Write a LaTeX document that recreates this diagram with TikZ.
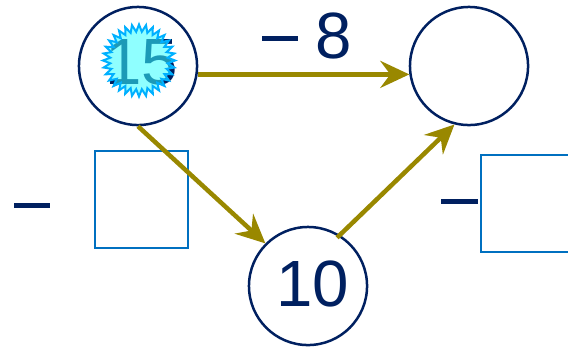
\documentclass[tikz,border=0pt]{standalone}
\usepackage{fontspec}
\setmainfont{Liberation Sans}
\usetikzlibrary{arrows.meta,shapes.geometric}
\definecolor{navyline}{HTML}{002060}
\definecolor{oliveline}{HTML}{998800}
\definecolor{boxline}{HTML}{0070C0}
\definecolor{starline}{HTML}{00B0FF}
\definecolor{starfill}{HTML}{33FFFF}
\tikzset{
	numcircle/.style={circle, draw=navyline, line width=0.025cm, minimum size=1.18cm, inner sep=0pt},
	numtext/.style={text=navyline, inner sep=0pt, font=\fontsize{18.6}{18.6}\selectfont},
	answerbox/.style={rectangle, draw=boxline, line width=0.018cm, inner sep=0pt},
	flow/.style={draw=oliveline, line width=0.045cm, -{Stealth[length=0.29cm,width=0.27cm,inset=0.1cm]}},
	minusbar/.style={draw=navyline, line width=0.05cm}
}
\begin{document}
\begin{tikzpicture}[x=0.01cm,y=-0.01cm]

	\useasboundingbox (0,0) rectangle (568,348);

	%CIRCLES
	\node[numcircle] (start) at (138,66) {};
	\node[numcircle] (finish) at (469,66) {};
	\node[numcircle] (middle) at (308,286) {};

	%NUMBERS
	\node[numtext] (fifteen) at (141.5,62) {15};
	\node[numtext] (ten) at (312.5,284) {10};
	\node[numtext] (weight) at (333.5,36) {8};

	%STAR
	\node[star, star points=32, star point ratio=1.25, minimum size=0.72cm, inner sep=0pt, draw=starline, line width=0.02cm, fill=starfill, fill opacity=0.55] (burst) at (139,60.5) {};

	%BOXES
	\node[answerbox, minimum width=0.93cm, minimum height=0.97cm] (leftbox) at (141.5,199.5) {};
	\node[answerbox, minimum width=0.97cm, minimum height=0.97cm] (rightbox) at (529.5,203.5) {};

	%ARROWS
	\draw[flow] (start.-8) -- (finish.188);
	\draw[flow] (start.-90) -- (middle.135);
	\draw[flow, shorten <=-0.04cm] (middle.58) -- (finish.256);

	%LABELS
	\draw[minusbar] (262,38) -- (298,38);
	\draw[minusbar] (14,205) -- (50,205);
	\draw[minusbar] (441,201) -- (478,201);

\end{tikzpicture}
\end{document}
